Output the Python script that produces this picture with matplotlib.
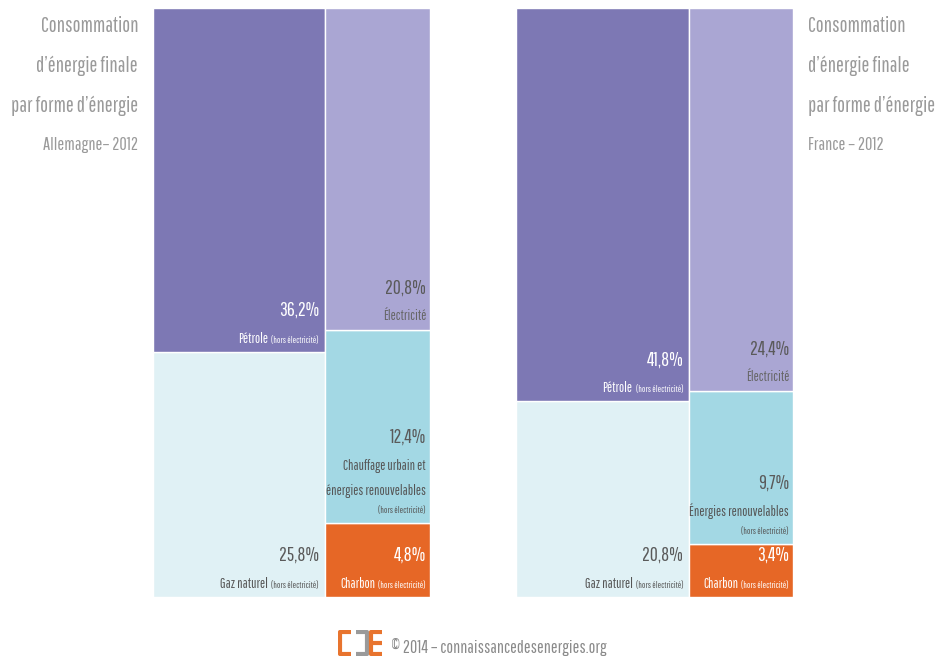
import matplotlib
matplotlib.use("Agg")
import matplotlib.pyplot as plt
from matplotlib import font_manager
from matplotlib.transforms import offset_copy

# ---------------- data ----------------
countries = ["Allemagne– 2012", "France – 2012"]
categories = ["Pétrole", "Gaz naturel", "Électricité", "Autres", "Charbon"]
de_values = [36.2, 25.8, 20.8, 12.4, 4.8]
fr_values = [41.8, 20.8, 24.4, 9.7, 3.4]
de_other_label = ["Chauffage urbain et", "énergies renouvelables"]
fr_other_label = ["Énergies renouvelables"]
title_lines = ["Consommation", "d’énergie finale", "par forme d’énergie"]
footer = "© 2014 – connaissancedesenergies.org"

colors = {"Pétrole": "#7d78b4", "Gaz naturel": "#e0f1f5", "Électricité": "#aaa6d3",
          "Autres": "#a3d8e4", "Charbon": "#e66726"}
val_colors = {"Pétrole": "white", "Gaz naturel": "#5a5a5a", "Électricité": "#5a5a5a",
              "Autres": "#5a5a5a", "Charbon": "white"}
lab_colors = {"Pétrole": "white", "Gaz naturel": "#555555", "Électricité": "#666666",
              "Autres": "#555555", "Charbon": "white"}

names = {f.name for f in font_manager.fontManager.ttflist}
prefs = ["Pathway Gothic One", "Archivo Narrow", "Roboto Condensed",
         "Liberation Sans Narrow", "Barlow Condensed", "Asap Condensed", "Liberation Sans"]
FONT = next(f for f in prefs if f in names)
plt.rcParams["font.family"] = [FONT, "DejaVu Sans"]

W, H = 938, 659
fig = plt.figure(figsize=(W / 100, H / 100), dpi=100)
renderer = fig.canvas.get_renderer()


def fit_size(text, width_px):
    t = fig.text(0, 0, text, fontsize=10)
    w = t.get_window_extent(renderer).width
    t.remove()
    return 10 * width_px / w


VAL_FS = fit_size("36,2%", 40)
LAB_FS = min(fit_size("énergies renouvelables", 99), fit_size("Électricité", 43) * 1.05)
SMALL_FS = fit_size("(hors électricité)", 47)
TITLE_FS = fit_size("par forme d’énergie", 127)
SUB_FS = fit_size("Allemagne– 2012", 95)
FOOT_FS = fit_size(footer, 214)


def fmt(v):
    return f"{v:.1f}%".replace(".", ",")


def put_line(ax, x, y, dx, dy, parts):
    """parts: list of (text, size, color), right-aligned, laid out right to left."""
    off = 0
    for txt, fs, col in reversed(parts):
        tr = offset_copy(ax.transData, fig=fig, x=-dx - off, y=dy, units="dots")
        t = ax.text(x, y, txt, transform=tr, ha="right", va="baseline", fontsize=fs, color=col)
        off += t.get_window_extent(renderer).width + 3


def draw_country(ax_rect, values, other_label):
    ax = fig.add_axes(ax_rect)
    total = sum(values)
    ax.set_xlim(0, total)
    ax.set_ylim(0, 1)
    ax.axis("off")
    p, g, e, o, c = values
    lw = p + g
    rw = e + o + c
    cells = [  # (category, x, width, bottom, height)
        ("Gaz naturel", 0, lw, 0, g / lw),
        ("Pétrole", 0, lw, g / lw, p / lw),
        ("Charbon", lw, rw, 0, c / rw),
        ("Autres", lw, rw, c / rw, o / rw),
        ("Électricité", lw, rw, (c + o) / rw, e / rw),
    ]
    vals = dict(zip(categories, values))
    for cat, x0, w, b, h in cells:
        ax.bar(x0, h, width=w, bottom=b, align="edge", color=colors[cat],
               edgecolor="white", linewidth=1)
    for cat, x0, w, b, h in cells:
        xr = x0 + w
        dx = 6 if x0 == 0 else 4
        lc = lab_colors[cat]
        small = ("(hors électricité)", SMALL_FS, lc)
        y = 9
        if cat == "Électricité":
            y = 10
            put_line(ax, xr, b, dx, y, [("Électricité", LAB_FS, lc)])
        elif cat == "Autres":
            put_line(ax, xr, b, dx, y, [small])
            y += 19
            for ln in reversed(other_label):
                put_line(ax, xr, b, dx, y, [(ln, LAB_FS, lc)])
                y += 25
            y -= 25
        else:
            put_line(ax, xr, b, dx, y, [(cat, LAB_FS, lc), small])
        put_line(ax, xr, b, dx, y + 27, [(fmt(vals[cat]), VAL_FS, val_colors[cat])])
    return ax


def rect(x0, x1, y0, y1):
    return [x0 / W, 1 - y1 / H, (x1 - x0) / W, (y1 - y0) / H]


draw_country(rect(153, 430, 8, 597), de_values, de_other_label)
draw_country(rect(516, 793, 8, 597), fr_values, fr_other_label)

# titles
baselines = [32, 72, 112]
for xi, ha, country in [(138, "right", countries[0]), (808, "left", countries[1])]:
    for ln, yb in zip(title_lines, baselines):
        fig.text(xi / W, 1 - yb / H, ln, ha=ha, va="baseline", fontsize=TITLE_FS, color="#9a9a9a")
    fig.text(xi / W, 1 - 150 / H, country, ha=ha, va="baseline", fontsize=SUB_FS, color="#9a9a9a")

# footer
fig.text(391 / W, 1 - 653 / H, footer, ha="left", va="baseline", fontsize=FOOT_FS, color="#8a8a8a")

# logo
lg = fig.add_axes(rect(338, 383, 630, 656))
lg.set_xlim(0, 45)
lg.set_ylim(0, 26)
lg.axis("off")
OR, GR = "#e8742e", "#9a9a9a"
kw = dict(linewidth=3, solid_capstyle="butt")
lg.plot([13, 2, 2, 13], [24, 24, 2, 2], color=OR, **kw)
lg.plot([18, 29, 29, 18], [24, 24, 2, 2], color=GR, **kw)
lg.plot([44, 33, 33, 44], [24, 24, 2, 2], color=OR, **kw)
lg.plot([33, 44], [13, 13], color=OR, **kw)

fig.savefig("out.png", dpi=100, facecolor="white")
